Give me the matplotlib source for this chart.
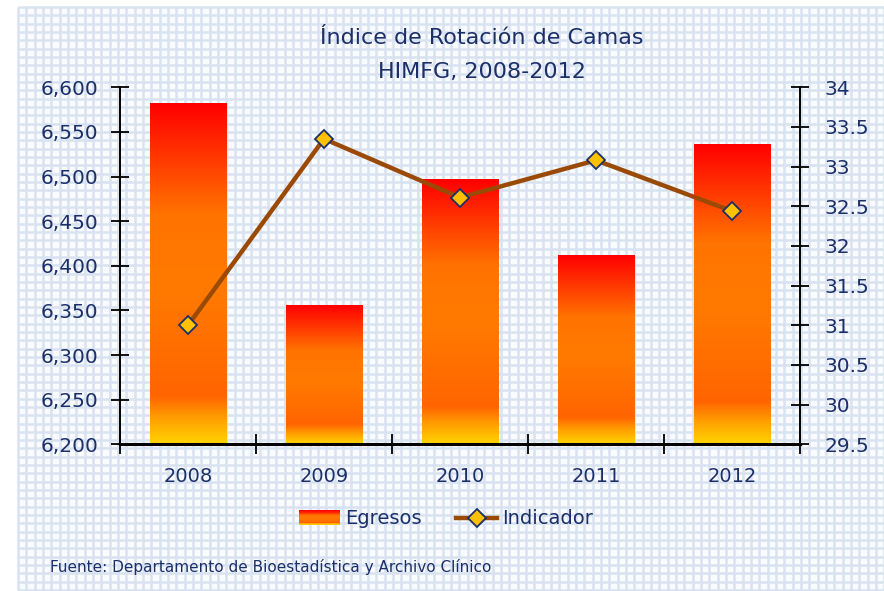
import numpy as np
import matplotlib
matplotlib.use("Agg")
import matplotlib.pyplot as plt
from matplotlib.colors import LinearSegmentedColormap
from matplotlib.patches import Rectangle
from matplotlib.lines import Line2D
from matplotlib.legend_handler import HandlerBase
from matplotlib.ticker import FuncFormatter

# ---- data ----
years = ["2008", "2009", "2010", "2011", "2012"]
egresos = [6581, 6355, 6496, 6411, 6536]
indicador = [31.00, 33.35, 32.61, 33.08, 32.44]
left_ticks = [6200, 6250, 6300, 6350, 6400, 6450, 6500, 6550, 6600]
right_ticks = [29.5, 30, 30.5, 31, 31.5, 32, 32.5, 33, 33.5, 34]

title_lines = ["Índice de Rotación de Camas", "HIMFG, 2008-2012"]
source = "Fuente: Departamento de Bioestadística y Archivo Clínico"

NAVY = "#1b2f69"
W, H = 884, 591

plt.rcParams['font.family'] = ['DejaVu Sans']

fig = plt.figure(figsize=(W / 100, H / 100), dpi=100)
fig.patch.set_facecolor("white")

# ---- background paper pattern ----
bg = fig.add_axes([0, 0, 1, 1], zorder=-10)
bg.set_xlim(0, W)
bg.set_ylim(H, 0)
bg.axis("off")
bg.add_patch(Rectangle((18, 7), W - 18, H - 7, facecolor="#f9fbfe", edgecolor="none"))
step = 8.33
xs = np.arange(18, W + 1, step)
ys = np.arange(7, H + 1, step)
bg.vlines(xs, 7, H, colors="#d8e2f1", linewidth=1.8)
bg.hlines(ys, 18, W, colors="#d8e2f1", linewidth=1.8)

# ---- gradient colormap (0 = top of bar, 1 = bottom) ----
fire = LinearSegmentedColormap.from_list(
    "fire",
    [(0.0, "#ff0000"), (0.33, "#ff7400"), (0.55, "#ff7a00"),
     (0.86, "#ff6400"), (0.92, "#ff9a00"), (1.0, "#ffd400")])

# ---- main axes ----
l = 120 / W
r = 800 / W
b = (H - 444.3) / H
t = (H - 87.3) / H
ax = fig.add_axes([l, b, r - l, t - b])
ax.patch.set_alpha(0)

x = np.arange(len(years))
bw = 0.566
bars = ax.bar(x, np.array(egresos) - 6200, bottom=6200, width=bw,
              color="none", edgecolor="none")
grad = np.linspace(0, 1, 256).reshape(-1, 1)
for bar in bars:
    x0 = bar.get_x()
    y0 = bar.get_y()
    ax.imshow(grad, extent=[x0, x0 + bar.get_width(), y0, y0 + bar.get_height()],
              aspect="auto", cmap=fire, origin="upper", zorder=2, interpolation="bilinear")

ax.set_xlim(-0.5, len(years) - 0.5)
ax.set_ylim(6200, 6600)
ax.set_yticks(left_ticks)
ax.yaxis.set_major_formatter(FuncFormatter(lambda v, p: f"{int(v):,}"))
ax.set_xticks(np.arange(-0.5, len(years), 1.0))
ax.set_xticklabels([])
ax.set_xticks(x, minor=True)
ax.set_xticklabels(years, minor=True)
ax.tick_params(axis="x", which="major", direction="inout", length=14, width=1.3, color="black")
ax.tick_params(axis="x", which="minor", length=0, pad=16, labelsize=14, labelcolor=NAVY)
ax.tick_params(axis="y", direction="inout", length=13, width=1.3, color="black",
               labelsize=14.5, labelcolor=NAVY, pad=9)
ax.spines["top"].set_visible(False)
ax.spines["right"].set_visible(False)
ax.spines["left"].set_linewidth(1.4)
ax.spines["bottom"].set_linewidth(2.2)

# ---- secondary axis ----
ax2 = ax.twinx()
ax2.patch.set_alpha(0)
ax2.plot(x, indicador, color="#9b4a06", linewidth=3.2, marker="D", markersize=9.5,
         markerfacecolor="#ffc000", markeredgecolor="#1b2f69", markeredgewidth=1.3,
         zorder=5, solid_capstyle="round")
ax2.set_ylim(29.5, 34)
ax2.set_yticks(right_ticks)
ax2.yaxis.set_major_formatter(FuncFormatter(lambda v, p: f"{v:g}"))
ax2.tick_params(axis="y", direction="inout", length=13, width=1.3, color="black",
                labelsize=14.5, labelcolor=NAVY, pad=11)
for s in ["top", "left", "bottom"]:
    ax2.spines[s].set_visible(False)
ax2.spines["right"].set_linewidth(1.4)

# ---- title ----
fig.text(482 / W, 1 - 38 / H, title_lines[0], ha="center", va="center", fontsize=16,
         color=NAVY)
fig.text(482 / W, 1 - 72 / H, title_lines[1], ha="center", va="center", fontsize=16,
         color=NAVY)

# ---- legend ----
class GradientHandler(HandlerBase):
    def create_artists(self, legend, orig_handle, xdescent, ydescent, width, height,
                       fontsize, trans):
        n = 24
        arts = []
        for i in range(n):
            frac = 1 - (i + 0.5) / n
            rect = Rectangle((-xdescent, -ydescent + i * height / n), width, height / n + 0.3,
                             facecolor=fire(frac), edgecolor="none", transform=trans)
            arts.append(rect)
        return arts

bar_handle = Rectangle((0, 0), 1, 1)
line_handle = Line2D([], [], color="#9b4a06", linewidth=3.2, marker="D", markersize=9.5,
                     markerfacecolor="#ffc000", markeredgecolor="#1b2f69", markeredgewidth=1.3)
leg = fig.legend([bar_handle, line_handle], ["Egresos", "Indicador"],
                 handler_map={Rectangle: GradientHandler()},
                 loc="center", bbox_to_anchor=(446 / W, 1 - 519 / H), ncol=2,
                 frameon=False, fontsize=14, handlelength=2.1, handletextpad=0.25,
                 columnspacing=1.8, labelcolor=NAVY)

# ---- source ----
fig.text(50 / W, 1 - 567 / H, source, ha="left", va="center", fontsize=11, color=NAVY)

fig.savefig("out.png", dpi=100)
